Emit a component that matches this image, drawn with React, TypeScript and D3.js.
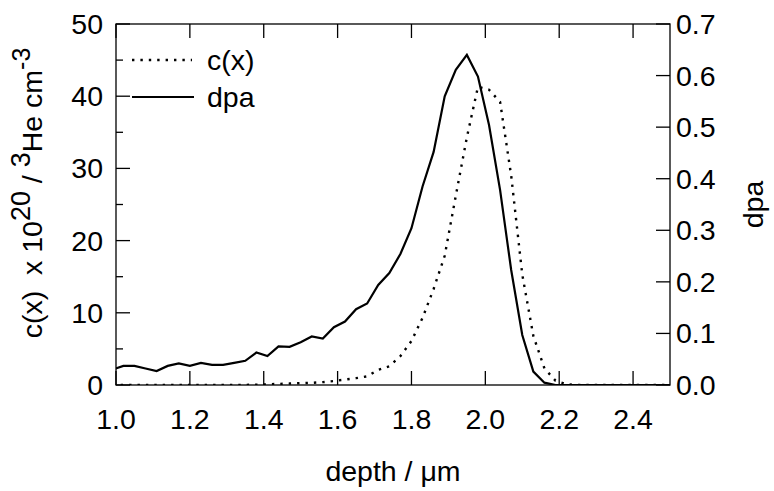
import React from "react";
import * as d3 from "d3";

const depth = [0.99, 1.02, 1.05, 1.08, 1.11, 1.14, 1.17, 1.2, 1.23, 1.26, 1.29, 1.32, 1.35, 1.38, 1.41, 1.44, 1.47, 1.5, 1.53, 1.56, 1.59, 1.62, 1.65, 1.68, 1.71, 1.74, 1.77, 1.8, 1.83, 1.86, 1.89, 1.92, 1.95, 1.98, 2.01, 2.04, 2.07, 2.1, 2.13, 2.16, 2.19, 2.22, 2.25, 2.28, 2.31, 2.34, 2.37, 2.4, 2.43, 2.46, 2.49, 2.52];
const dpa = [0.03, 0.037, 0.037, 0.032, 0.027, 0.037, 0.042, 0.037, 0.043, 0.039, 0.039, 0.043, 0.047, 0.063, 0.056, 0.075, 0.074, 0.083, 0.094, 0.09, 0.112, 0.123, 0.147, 0.158, 0.194, 0.217, 0.254, 0.304, 0.385, 0.452, 0.56, 0.611, 0.64, 0.598, 0.504, 0.378, 0.223, 0.097, 0.026, 0.0045, 0.0, 0, 0, 0, 0, 0, 0, 0, 0, 0, 0, 0];
const conc = [0, 0, 0, 0, 0, 0, 0, 0, 0, 0, 0, 0, 0.02, 0.05, 0.1, 0.15, 0.2, 0.25, 0.3, 0.4, 0.55, 0.75, 0.95, 1.2, 2.1, 2.6, 4.0, 6.1, 9.3, 13.3, 17.9, 26.2, 34.3, 41.3, 40.9, 39.2, 29.0, 15.3, 6.8, 2.3, 0.6, 0.1, 0, 0, 0, 0, 0, 0, 0, 0, 0, 0];

const xTicks = [1.0, 1.2, 1.4, 1.6, 1.8, 2.0, 2.2, 2.4];
const yLeftTicks = [0, 10, 20, 30, 40, 50];
const yLeftMinor = [5, 15, 25, 35, 45];
const yRightTicks = [0.0, 0.1, 0.2, 0.3, 0.4, 0.5, 0.6, 0.7];

const W = 774, H = 491;
const L = 116, R = 670, T = 24, B = 385;
const FONT = "'Liberation Sans', Arial, sans-serif";

export default function App() {
  const x = d3.scaleLinear().domain([1.0, 2.5]).range([L, R]);
  const yL = d3.scaleLinear().domain([0, 50]).range([B, T]);
  const yR = d3.scaleLinear().domain([0, 0.7]).range([B, T]);

  const concLine = d3.line<number>().x((_, i) => x(depth[i])).y((d) => yL(d))(conc) || "";
  const dpaLine = d3.line<number>().x((_, i) => x(depth[i])).y((d) => yR(d))(dpa) || "";

  const fs = 28.5;
  const major = 14, minor = 7;

  return (
    <svg width={W} height={H} style={{ position: "absolute", left: 0, top: 0, background: "#fff" }} fontFamily={FONT}>
      <defs>
        <clipPath id="plotclip">
          <rect x={L} y={T - 5} width={R - L} height={B - T + 5} />
        </clipPath>
      </defs>
      <rect x={0} y={0} width={W} height={H} fill="#fff" />
      <g clipPath="url(#plotclip)" fill="none">
        <path d={concLine} stroke="#000" strokeWidth={2.4} strokeDasharray="2.4 6" />
        <path d={dpaLine} stroke="#000" strokeWidth={2.2} strokeLinejoin="miter" />
      </g>
      <rect x={L} y={T} width={R - L} height={B - T} fill="none" stroke="#000" strokeWidth={1.3} />
      {xTicks.map((t) => (
        <g key={"x" + t}>
          <line x1={x(t)} x2={x(t)} y1={B} y2={B - major} stroke="#000" strokeWidth={1.3} />
          <line x1={x(t)} x2={x(t)} y1={T} y2={T + major} stroke="#000" strokeWidth={1.3} />
          <text x={x(t)} y={B + 44} fontSize={fs} textAnchor="middle">{t.toFixed(1)}</text>
        </g>
      ))}
      {yLeftTicks.map((t) => (
        <g key={"yl" + t}>
          <line x1={L} x2={L + major} y1={yL(t)} y2={yL(t)} stroke="#000" strokeWidth={1.3} />
          <text x={L - 13} y={yL(t) + 10} fontSize={fs} textAnchor="end">{t}</text>
        </g>
      ))}
      {yLeftMinor.map((t) => (
        <line key={"ym" + t} x1={L} x2={L + minor} y1={yL(t)} y2={yL(t)} stroke="#000" strokeWidth={1.3} />
      ))}
      {yRightTicks.map((t) => (
        <g key={"yr" + t}>
          <line x1={R} x2={R - major} y1={yR(t)} y2={yR(t)} stroke="#000" strokeWidth={1.3} />
          <text x={R + 6} y={yR(t) + 10} fontSize={fs} textAnchor="start">{t.toFixed(1)}</text>
        </g>
      ))}
      <text x={(L + R) / 2} y={481} fontSize={fs} textAnchor="middle">depth / μm</text>
      <text transform={`translate(763,${(T + B) / 2}) rotate(-90)`} fontSize={fs} textAnchor="middle">dpa</text>
      <text transform={`translate(42,193) rotate(-90)`} fontSize={fs} textAnchor="middle">
        <tspan>{"c(x)\u00a0\u00a0x 10"}</tspan>
        <tspan dy={-12} fontSize={27}>20</tspan>
        <tspan dy={12}>{"\u00a0/\u00a0"}</tspan>
        <tspan dy={-12} fontSize={27}>3</tspan>
        <tspan dy={12}>He cm</tspan>
        <tspan dy={-12} fontSize={25}>-3</tspan>
      </text>
      <line x1={132} x2={192} y1={60} y2={60} stroke="#000" strokeWidth={2.4} strokeDasharray="2.4 6" />
      <text x={207} y={70} fontSize={fs}>c(x)</text>
      <line x1={132} x2={194} y1={97} y2={97} stroke="#000" strokeWidth={2.2} />
      <text x={207} y={107} fontSize={fs}>dpa</text>
    </svg>
  );
}
